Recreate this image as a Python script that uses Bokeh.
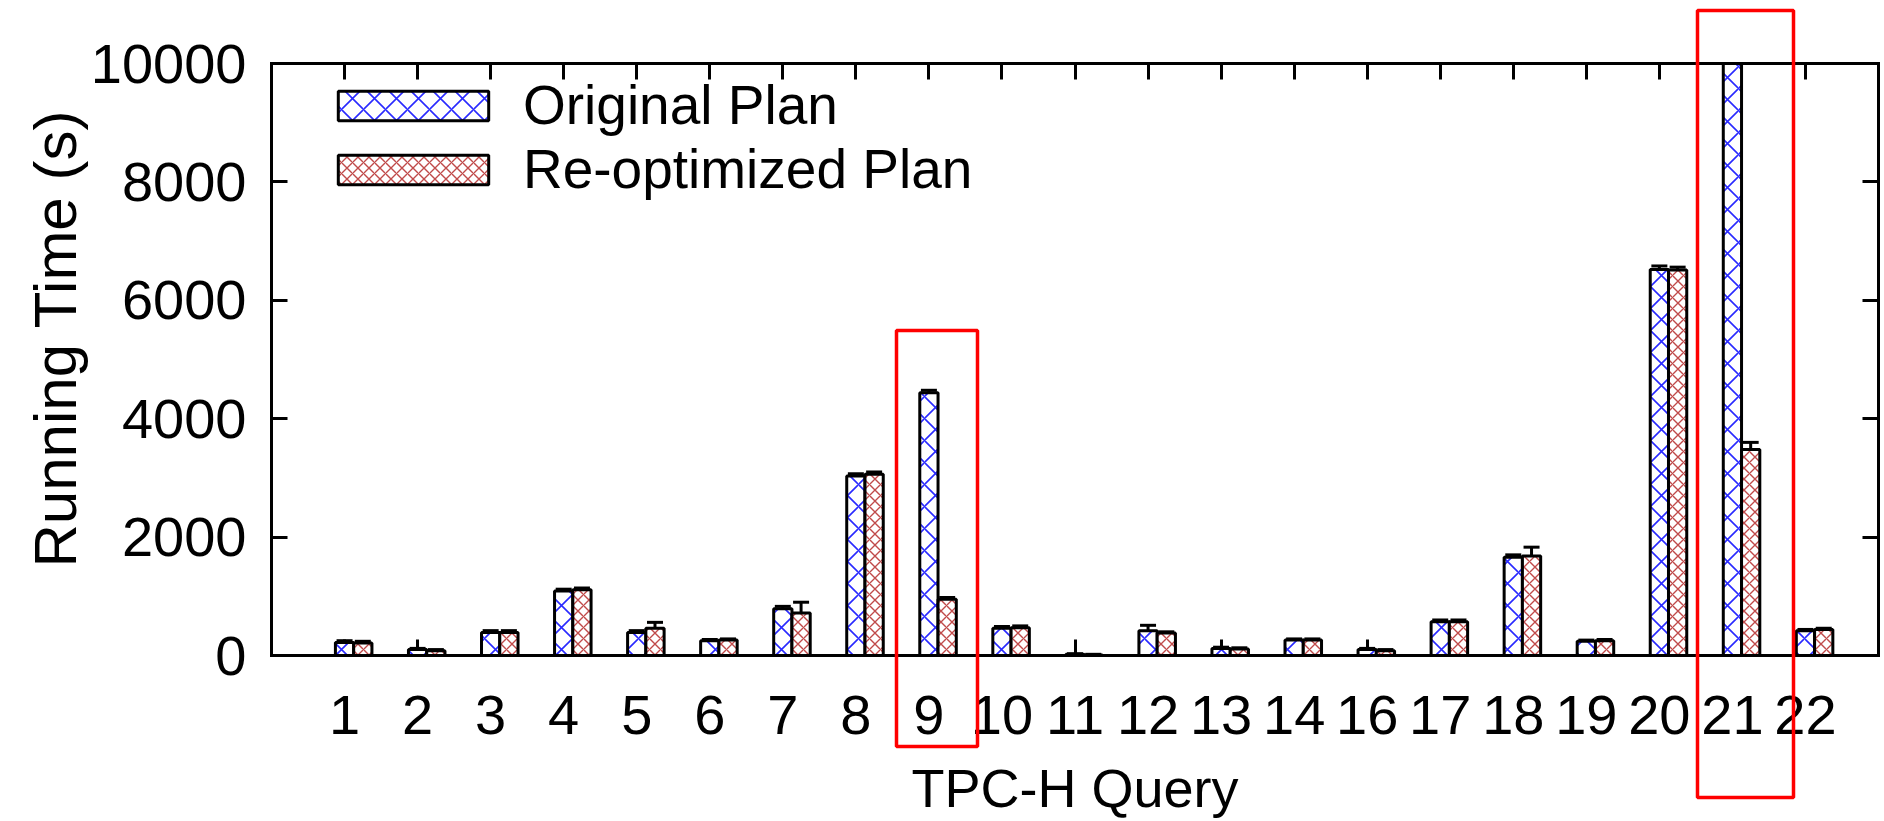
import math
from bokeh.plotting import figure
from bokeh.models import (Range1d, FixedTicker, LinearAxis, Whisker, TeeHead,
                          ColumnDataSource, BoxAnnotation, Label)
from bokeh.embed import file_html
from bokeh.resources import INLINE

# ---------------- data ----------------
queries = ["1", "2", "3", "4", "5", "6", "7", "8", "9", "10", "11", "12", "13",
           "14", "16", "17", "18", "19", "20", "21", "22"]
original = [220, 100, 390, 1090, 390, 250, 790, 3030, 4440, 460, 20, 420, 120,
            260, 100, 570, 1660, 240, 6520, 10500, 420]
original_err = [30, 20, 30, 30, 30, 20, 40, 40, 40, 30, 10, 90, 20,
                20, 20, 30, 40, 20, 60, 0, 20]
reoptimized = [210, 80, 390, 1110, 460, 260, 720, 3060, 950, 470, 10, 380, 110,
               260, 80, 570, 1680, 250, 6510, 3480, 440]
reoptimized_err = [30, 20, 30, 30, 100, 20, 180, 40, 30, 30, 10, 20, 20,
                   20, 20, 30, 150, 20, 50, 120, 20]
y_ticks = [0, 2000, 4000, 6000, 8000, 10000]
highlight_groups = ["9", "21"]

# ---------------- layout (pixels) ----------------
W, H = 1884, 821
FL, FR, FT, FB = 271, 1878, 63, 655          # axes box
X_MIN, X_MAX = 0, len(queries) + 1
Y_MIN, Y_MAX = 0, 10000
ux = (X_MAX - X_MIN) / (FR - FL)              # data units per pixel
uy = (Y_MAX - Y_MIN) / (FB - FT)


def px_x(px):
    return X_MIN + (px - FL) * ux


def px_y(py):
    return Y_MIN + (FB - py) * uy


# highlight rectangles in pixels: (left, right, top, bottom)
highlight_px = [(896, 977, 330, 746), (1697, 1793, 10, 797)]

FONT = "Liberation Sans"
BAR_W = 0.25

pos = list(range(1, len(queries) + 1))
pos_reopt = [x + BAR_W for x in pos]


def clip(v):
    return min(v, Y_MAX)


src_o = ColumnDataSource(dict(
    x=pos, top=[clip(v) for v in original],
    upper=[clip(v + e) for v, e in zip(original, original_err)],
    lower=[clip(v - e) for v, e in zip(original, original_err)]))
src_r = ColumnDataSource(dict(
    x=pos_reopt, top=[clip(v) for v in reoptimized],
    upper=[clip(v + e) for v, e in zip(reoptimized, reoptimized_err)],
    lower=[clip(v - e) for v, e in zip(reoptimized, reoptimized_err)]))

p = figure(width=W, height=H, output_backend="svg", toolbar_location=None,
           x_range=Range1d(px_x(0), px_x(W)), y_range=Range1d(px_y(H), px_y(0)),
           x_axis_location=None, y_axis_location=None,
           min_border_left=0, min_border_right=0, min_border_top=0,
           min_border_bottom=0)
p.title.visible = False
p.background_fill_color = "white"
p.border_fill_color = "white"
p.outline_line_color = None
p.xgrid.visible = False
p.ygrid.visible = False

# bars (drawn above the axis ticks, like the reference)
r1 = p.vbar(x="x", top="top", width=BAR_W, source=src_o, fill_color="white",
            line_color="black", line_width=3, hatch_pattern="diagonal_cross",
            hatch_color="#2a2aff", hatch_scale=22, hatch_weight=1.6,
            legend_label="Original Plan")
r2 = p.vbar(x="x", top="top", width=BAR_W, source=src_r, fill_color="white",
            line_color="black", line_width=3, hatch_pattern="diagonal_cross",
            hatch_color="#c04a4a", hatch_scale=11, hatch_weight=1.4,
            legend_label="Re-optimized Plan")
r1.level = "annotation"
r2.level = "annotation"

for s in (src_o, src_r):
    w = Whisker(source=s, base="x", upper="upper", lower="lower",
                line_color="black", line_width=3,
                upper_head=TeeHead(size=16, line_width=3, line_color="black"),
                lower_head=TeeHead(size=16, line_width=3, line_color="black"))
    p.add_layout(w)

# axes (box made of four bounded axes)
xt = FixedTicker(ticks=pos)
yt = FixedTicker(ticks=y_ticks)
common = dict(axis_line_width=3, axis_line_cap="square", major_tick_line_width=3,
              major_tick_in=16, major_tick_out=0, minor_tick_line_color=None,
              major_label_text_font=FONT, major_label_text_font_size="56px",
              major_label_text_color="black")

bottom = LinearAxis(ticker=xt, fixed_location=Y_MIN, bounds=(X_MIN, X_MAX),
                    major_label_standoff=40,
                    major_label_overrides={i: q for i, q in zip(pos, queries)},
                    **common)
top = LinearAxis(ticker=xt, fixed_location=Y_MAX, bounds=(X_MIN, X_MAX),
                 major_label_standoff=0,
                 major_label_overrides={i: "" for i in pos}, **common)
left = LinearAxis(ticker=yt, fixed_location=X_MIN, bounds=(Y_MIN, Y_MAX),
                  major_label_standoff=25, **common)
right = LinearAxis(ticker=yt, fixed_location=X_MAX, bounds=(Y_MIN, Y_MAX),
                   major_label_standoff=0,
                   major_label_overrides={t: "" for t in y_ticks}, **common)
p.add_layout(bottom, "below")
p.add_layout(top, "above")
p.add_layout(left, "left")
p.add_layout(right, "right")

# axis titles
p.add_layout(Label(x=px_x((FL + FR) / 2), y=px_y(787), text="TPC-H Query",
                   text_font=FONT, text_font_size="54px", text_color="black",
                   text_align="center", text_baseline="alphabetic"))
p.add_layout(Label(x=px_x(55), y=px_y(338), text="Running Time (s)",
                   text_font=FONT, text_font_size="60px", text_color="black",
                   text_align="center", text_baseline="middle",
                   angle=math.pi / 2))

# legend
lg = p.legend[0]
lg.location = (FL + 48, (H - FB) + 454)
lg.glyph_width = 188
lg.glyph_height = 37
lg.label_standoff = 16
lg.spacing = 0
lg.padding = 0
lg.margin = 0
lg.border_line_color = None
lg.background_fill_alpha = 0
lg.label_text_font = FONT
lg.label_text_font_size = "55px"
lg.label_text_color = "black"
lg.label_height = 63

# highlight boxes (red outlines)
for g, (l, r, t, b) in zip(highlight_groups, highlight_px):
    p.add_layout(BoxAnnotation(left=px_x(l), right=px_x(r), top=px_y(t),
                               bottom=px_y(b), fill_color=None,
                               line_color="#ff0000", line_alpha=1,
                               line_width=3.5))

open("out.html", "w").write(file_html(p, INLINE))
